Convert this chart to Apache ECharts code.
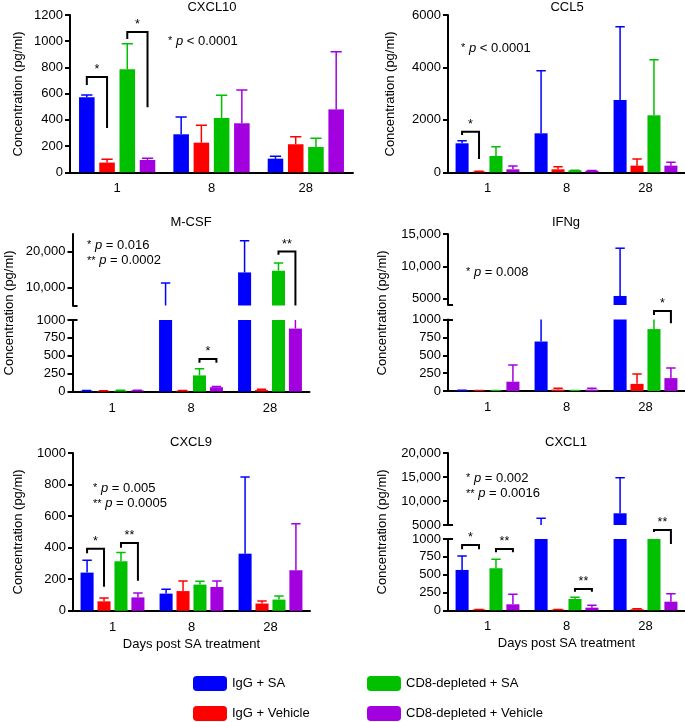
<!DOCTYPE html>
<html><head><meta charset="utf-8">
<script src="https://cdn.jsdelivr.net/npm/echarts@6/dist/echarts.min.js"></script>
<style>html,body{margin:0;padding:0;background:#fff}#c{width:685px;height:722px}</style>
</head><body><div id="c"></div>
<script>
const days = ['1', '8', '28'];
const groups = ['IgG + SA', 'IgG + Vehicle', 'CD8-depleted + SA', 'CD8-depleted + Vehicle'];
const colors = ['#0000ff', '#ff0000', '#00c000', '#a300e0'];

// means [group][day] and SD [group][day]
const cxcl10Mean = [[572, 290, 104], [74, 226, 214], [786, 414, 193], [94, 374, 480]];
const cxcl10Sd   = [[18, 132, 18], [25, 132, 58], [195, 173, 66], [13, 254, 440]];
const ccl5Mean = [[1106, 1487, 2758], [25, 114, 254], [623, 76, 2174], [114, 64, 254]];
const ccl5Sd   = [[102, 2390, 2797], [15, 102, 254], [356, 4, 2122], [127, 6, 127]];
const mcsfMean = [[10, 3000, 14250], [8, 10, 20], [12, 225, 14720], [15, 60, 880]];
const mcsfSd   = [[4, 8300, 8890], [2, 4, 10], [4, 93, 2140], [3, 10, 420]];
const ifngMean = [[8, 692, 5400], [5, 20, 100], [5, 5, 866], [130, 20, 180]];
const ifngSd   = [[2, 708, 7400], [1, 20, 139], [1, 1, 234], [235, 20, 140]];
const cxcl9Mean = [[242, 109, 362], [60, 125, 46], [314, 166, 71], [85, 151, 257]];
const cxcl9Sd   = [[78, 27, 486], [21, 64, 16], [55, 21, 23], [28, 38, 295]];
const cxcl1Mean = [[566, 3000, 7440], [10, 10, 15], [590, 159, 2500], [84, 37, 121]];
const cxcl1Sd   = [[197, 3400, 7410], [2, 2, 5], [126, 24, 500], [141, 33, 110]];

// significance brackets: [day, fromGroup, toGroup, topValue, leftLegEnd, rightLegEnd, label, segment]
const cxcl10Brackets = [[0, 0, 1, 727, 666, 337, '*', 0], [0, 2, 3, 1070, 1017, 497, '*', 0]];
const ccl5Brackets = [[0, 0, 1, 1548, 1423, 507, '*', 0]];
const mcsfBrackets = [[1, 2, 3, 455, 403, 403, '*', 1], [2, 2, 3, 20080, 19170, 5000, '**', 0]];
const ifngBrackets = [[2, 2, 3, 1119, 1063, 947, '*', 1]];
const cxcl9Brackets = [[0, 0, 1, 393, 365, 153, '*', 0], [0, 2, 3, 429, 399, 191, '**', 0]];
const cxcl1Brackets = [[0, 0, 1, 916, 855, 855, '*', 1], [0, 2, 3, 860, 813, 813, '**', 1],
                       [1, 2, 3, 299, 261, 261, '**', 1], [2, 2, 3, 1126, 1098, 930, '**', 1]];

// p-value notes: [stars, rest]
const cxcl10Notes = [['*', '< 0.0001']];
const ccl5Notes = [['*', '< 0.0001']];
const mcsfNotes = [['*', '= 0.016'], ['**', '= 0.0002']];
const ifngNotes = [['*', '= 0.008']];
const cxcl9Notes = [['*', '= 0.005'], ['**', '= 0.0005']];
const cxcl1Notes = [['*', '= 0.002'], ['**', '= 0.0016']];

const yName = 'Concentration (pg/ml)';
const xName = 'Days post SA treatment';

const FONT = '"Liberation Sans", Arial, Helvetica, sans-serif';
const FS = 13;
const BW = 0.165, BG = 0.30;

const panels = [
  {title: 'CXCL10', mean: cxcl10Mean, sd: cxcl10Sd, br: cxcl10Brackets, notes: cxcl10Notes,
   tx: 212, ty: 7, nx: 18, ny: 94, ntx: 168, nty: 41, xname: false,
   segs: [{left: 70, top: 15, width: 283, height: 157.3, min: 0, max: 1200, interval: 200}]},
  {title: 'CCL5', mean: ccl5Mean, sd: ccl5Sd, br: ccl5Brackets, notes: ccl5Notes,
   tx: 567, ty: 7, nx: 390, ny: 94, ntx: 461, nty: 48, xname: false,
   segs: [{left: 448, top: 15, width: 237, height: 157.3, min: 0, max: 6000, interval: 2000}]},
  {title: 'M-CSF', mean: mcsfMean, sd: mcsfSd, br: mcsfBrackets, notes: mcsfNotes,
   tx: 191, ty: 222, nx: 9, ny: 313, ntx: 87, nty: 245, xname: false,
   segs: [{left: 72.5, top: 234, width: 237, height: 71.5, min: 5000, max: 25000, labels: [10000, 20000], stub: 5000},
          {left: 72.5, top: 320, width: 237, height: 71.5, min: 0, max: 1000, interval: 250, stub: 1000}]},
  {title: 'IFNg', mean: ifngMean, sd: ifngSd, br: ifngBrackets, notes: ifngNotes,
   tx: 566, ty: 222, nx: 382, ny: 313, ntx: 466, nty: 272, xname: false,
   segs: [{left: 448, top: 234, width: 237, height: 71, min: 4000, max: 15000, labels: [5000, 10000, 15000], stub: 4000},
          {left: 448, top: 319.5, width: 237, height: 71.5, min: 0, max: 1000, interval: 250, stub: 1000}]},
  {title: 'CXCL9', mean: cxcl9Mean, sd: cxcl9Sd, br: cxcl9Brackets, notes: cxcl9Notes,
   tx: 191, ty: 442, nx: 18, ny: 532, ntx: 93, nty: 488, xname: true,
   segs: [{left: 73, top: 453, width: 237, height: 157.8, min: 0, max: 1000, interval: 200}]},
  {title: 'CXCL1', mean: cxcl1Mean, sd: cxcl1Sd, br: cxcl1Brackets, notes: cxcl1Notes,
   tx: 566, ty: 442, nx: 382, ny: 532, ntx: 466, nty: 478, xname: true,
   segs: [{left: 448, top: 453, width: 237, height: 72, min: 5000, max: 20000, interval: 5000, stub: 5000},
          {left: 448, top: 539, width: 237, height: 71.3, min: 0, max: 1000, interval: 250, stub: 1000}]}
];

function fmt(v) { return v >= 10000 ? v.toLocaleString('en-US') : String(v); }

function errRender(g) {
  return function (params, api) {
    const d = api.value(0);
    const pb = api.coord([d, api.value(1)]);
    const pt = api.coord([d, api.value(2)]);
    const band = api.size([1, 0])[0];
    const w = band * BW;
    const x = pb[0] + (g - 1.5) * w * (1 + BG);
    const half = w * 0.36;
    const st = {stroke: colors[g], lineWidth: 1.5, fill: null};
    return {type: 'group', children: [
      {type: 'line', shape: {x1: x, y1: pb[1], x2: x, y2: pt[1]}, style: st},
      {type: 'line', shape: {x1: x - half, y1: pt[1], x2: x + half, y2: pt[1]}, style: st}
    ]};
  };
}

function brRender(labels) {
  return function (params, api) {
    const d = api.value(0);
    const c = api.coord([d, api.value(3)]);
    const band = api.size([1, 0])[0];
    const pitch = band * BW * (1 + BG);
    const xl = c[0] + (api.value(1) - 1.5) * pitch;
    const xr = c[0] + (api.value(2) - 1.5) * pitch;
    const yt = c[1];
    const yl = api.coord([d, api.value(4)])[1];
    const yr = api.coord([d, api.value(5)])[1];
    return {type: 'group', children: [
      {type: 'polyline', shape: {points: [[xl, yl], [xl, yt], [xr, yt], [xr, yr]]},
       style: {stroke: '#000', lineWidth: 2, fill: null}},
      {type: 'text', x: (xl + xr) / 2, y: yt - 1,
       style: {text: labels[params.dataIndex], align: 'center', verticalAlign: 'bottom',
               textAlign: 'center', textVerticalAlign: 'bottom',
               fontSize: 12.5, fontFamily: FONT, fill: '#000'}}
    ]};
  };
}

const grid = [], xAxis = [], yAxis = [], series = [], graphic = [];
const black = {color: '#000', width: 2};

panels.forEach(p => {
  graphic.push({type: 'text', x: p.tx, y: p.ty,
    style: {text: p.title, align: 'center', verticalAlign: 'middle', textAlign: 'center', textVerticalAlign: 'middle',
            fontSize: FS, fontFamily: FONT, fill: '#000'}});
  graphic.push({type: 'text', x: p.nx, y: p.ny, rotation: Math.PI / 2,
    style: {text: yName, align: 'center', verticalAlign: 'middle', textAlign: 'center', textVerticalAlign: 'middle',
            fontSize: FS, fontFamily: FONT, fill: '#000'}});
  p.notes.forEach((n, k) => {
    graphic.push({type: 'text', x: p.ntx, y: p.nty + k * 15.5,
      style: {text: '{s|' + n[0] + '} {i|p} ' + n[1], align: 'left', verticalAlign: 'middle',
              textAlign: 'left', textVerticalAlign: 'middle',
              fontSize: FS, fontFamily: FONT, fill: '#000',
              rich: {s: {fontSize: 11, fontFamily: FONT, fill: '#000'},
                     i: {fontStyle: 'italic', fontSize: FS, fontFamily: FONT, fill: '#000'}}}});
  });

  p.segs.forEach((s, si) => {
    const gi = grid.length;
    const isBottom = si === p.segs.length - 1;
    grid.push({left: s.left, top: s.top, width: s.width, height: s.height, containLabel: false});
    const xi = xAxis.length;
    xAxis.push({type: 'category', data: days, gridIndex: gi, show: isBottom,
      axisLine: {lineStyle: black}, axisTick: {alignWithLabel: true, length: 5, lineStyle: black},
      axisLabel: {color: '#000', fontSize: FS, fontFamily: FONT, margin: 10},
      name: (isBottom && p.xname) ? xName : '', nameLocation: 'middle', nameGap: 27,
      nameTextStyle: {color: '#000', fontSize: FS, fontFamily: FONT}});
    const yi = yAxis.length;
    const ya = {type: 'value', gridIndex: gi, min: s.min, max: s.max,
      axisLine: {show: true, lineStyle: black}, splitLine: {show: false},
      axisTick: {show: true, length: 5, lineStyle: black},
      axisLabel: {color: '#000', fontSize: FS, fontFamily: FONT, margin: 7, formatter: fmt}};
    if (s.interval) ya.interval = s.interval;
    if (s.labels) { ya.axisLabel.customValues = s.labels; ya.axisTick.customValues = s.labels; }
    yAxis.push(ya);
    if (s.stub !== undefined) {
      yAxis.push({type: 'value', gridIndex: gi, min: s.min, max: s.max, position: 'left',
        axisLine: {show: false}, splitLine: {show: false}, axisLabel: {show: false},
        axisTick: {show: true, inside: true, length: 5, lineStyle: black, customValues: [s.stub]}});
    }
    for (let g = 0; g < 4; g++) {
      series.push({type: 'bar', name: groups[g], xAxisIndex: xi, yAxisIndex: yi,
        data: p.mean[g], barWidth: (BW * 100) + '%', barGap: (BG * 100) + '%',
        itemStyle: {color: colors[g]}, clip: true, silent: true});
    }
    for (let g = 0; g < 4; g++) {
      series.push({type: 'custom', name: groups[g], xAxisIndex: xi, yAxisIndex: yi, clip: true, silent: true,
        data: p.mean[g].map((m, d) => [d, m, m + p.sd[g][d]]),
        encode: {x: 0, y: [1, 2]}, renderItem: errRender(g)});
    }
    const brs = p.br.filter(b => b[7] === si);
    if (brs.length) {
      const labels = brs.map(b => b[6]);
      series.push({type: 'custom', xAxisIndex: xi, yAxisIndex: yi, clip: false, silent: true,
        data: brs.map(b => [b[0], b[1], b[2], b[3], b[4], b[5]]),
        encode: {x: 0, y: [3, 4, 5]}, renderItem: brRender(labels), z: 5});
    }
  });
});

const legendBase = {orient: 'vertical', top: 676, itemWidth: 34, itemHeight: 15, itemGap: 15,
  icon: 'roundRect', padding: 0, textStyle: {fontSize: FS, color: '#000', fontFamily: FONT}};

const option = {
  animation: false,
  backgroundColor: '#fff',
  textStyle: {fontFamily: FONT},
  grid, xAxis, yAxis, series, graphic,
  legend: [
    Object.assign({}, legendBase, {left: 193, data: [groups[0], groups[1]]}),
    Object.assign({}, legendBase, {left: 367, data: [groups[2], groups[3]]})
  ]
};

const chart = echarts.init(document.getElementById('c'), null, {renderer: 'canvas'});
chart.setOption(option);
</script>
</body></html>
